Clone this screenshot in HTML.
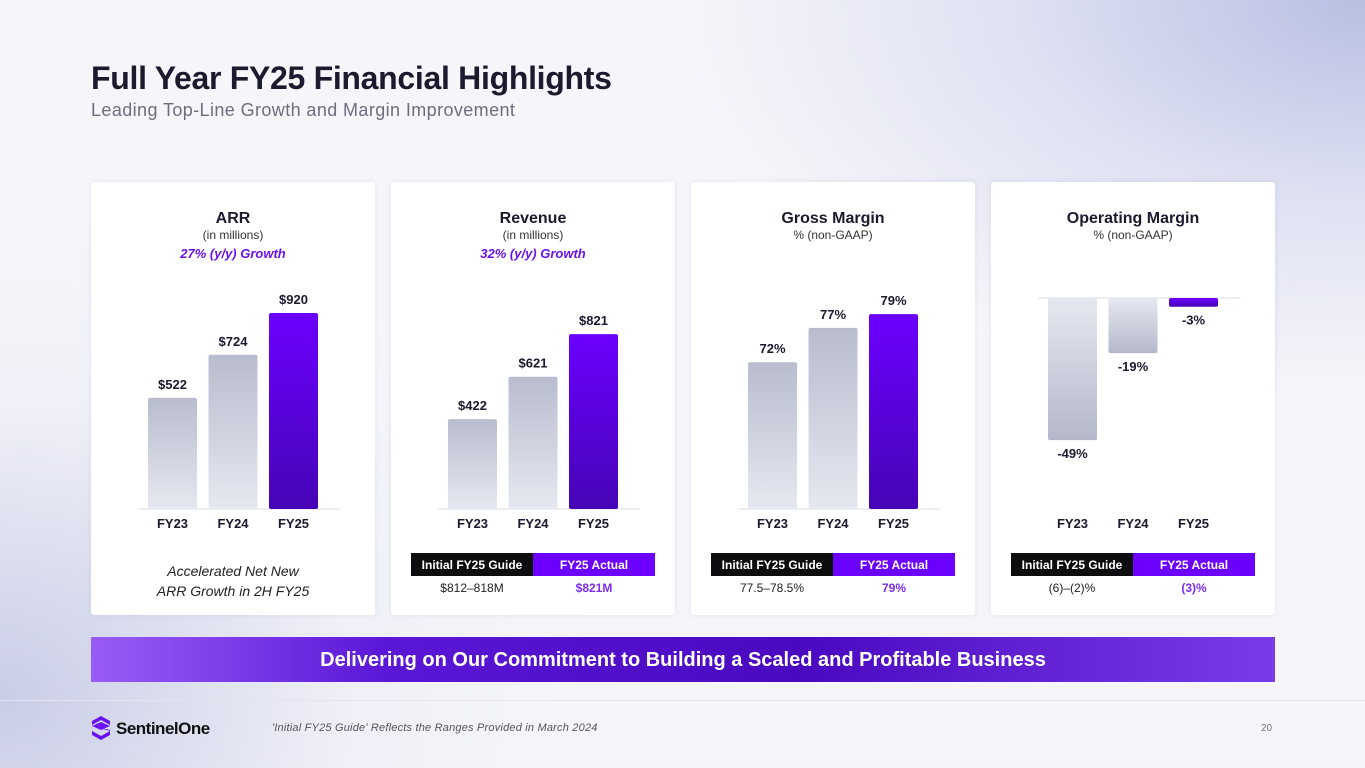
<!DOCTYPE html>
<html><head><meta charset="utf-8"><style>
*{margin:0;padding:0;box-sizing:border-box}
body{width:1365px;height:768px;overflow:hidden;font-family:"Liberation Sans",sans-serif;position:relative;
background:radial-gradient(ellipse 700px 400px at 1365px 0px,#b8bfe2 0%,rgba(200,205,235,0.5) 50%,rgba(255,255,255,0) 100%),radial-gradient(ellipse 600px 500px at 0px 700px,#c9cde6 0%,rgba(230,232,245,0.4) 60%,rgba(255,255,255,0) 100%),#f6f6fa}
.t{position:absolute;white-space:nowrap}
.card{position:absolute;top:182px;width:284px;height:433px;background:#fff;border-radius:3px;box-shadow:0 0 6px rgba(120,120,160,0.15)}
svg{position:absolute;left:0;top:0}
</style></head><body>
<div class="t" style="left:91px;top:60px;font-size:32px;font-weight:bold;color:#1b1a2e;letter-spacing:-0.3px">Full Year FY25 Financial Highlights</div>
<div class="t" style="left:91px;top:100px;font-size:18px;color:#6d6d80;letter-spacing:0.4px">Leading Top-Line Growth and Margin Improvement</div>
<div class="card" style="left:91px"></div>
<div class="card" style="left:391px"></div>
<div class="card" style="left:691px"></div>
<div class="card" style="left:991px"></div>
<div class="t" style="left:91px;width:284px;top:561px;text-align:center;font-size:14px;font-style:italic;color:#222;line-height:20px">Accelerated Net New<br>ARR Growth in 2H FY25</div>
<div style="position:absolute;left:91px;top:637px;width:1184px;height:45px;background:linear-gradient(90deg,#9a5cf8 0%,#5a17d6 25%,#4a09c0 60%,#7a3be8 100%);color:#fff;font-weight:bold;font-size:20px;text-align:center;line-height:47px">Delivering on Our Commitment to Building a Scaled and Profitable Business</div>
<div style="position:absolute;left:0;top:700px;width:1365px;height:1px;background:#e4e4ee"></div>
<svg style="left:91px;top:716px" width="20" height="24" viewBox="0 0 20 24"><path d="M10 0L19 5V9L10 4L1 9V5Z M1 10L19 14V19L10 24L1 19V15L10 20L19 15Z" fill="#6b12f0"/><path d="M1 10L10 6L19 10L10 14Z" fill="#6b12f0"/></svg>
<div class="t" style="left:116px;top:719px;font-size:17px;font-weight:bold;color:#111;letter-spacing:-0.5px">SentinelOne</div>
<div class="t" style="left:272px;top:722px;font-size:11px;font-style:italic;color:#555;letter-spacing:0.2px">'Initial FY25 Guide' Reflects the Ranges Provided in March 2024</div>
<div class="t" style="left:1261px;top:723px;font-size:10px;color:#777">20</div>
<svg id="ch" width="1365" height="768">
<defs>
<linearGradient id="gy" x1="0" y1="0" x2="0" y2="1"><stop offset="0" stop-color="#b9bccd"/><stop offset="1" stop-color="#e6e8f1"/></linearGradient>
<linearGradient id="gyr" x1="0" y1="0" x2="0" y2="1"><stop offset="0" stop-color="#e6e8f1"/><stop offset="1" stop-color="#b5b8ca"/></linearGradient>
<linearGradient id="pp" x1="0" y1="0" x2="0" y2="1"><stop offset="0" stop-color="#6b00ff"/><stop offset="1" stop-color="#4605b5"/></linearGradient>
</defs>
</svg>
<script>
const categories=["FY23","FY24","FY25"];
const arrValues=[522,724,920];
const arrLabels=["$522","$724","$920"];
const revValues=[422,621,821];
const revLabels=["$422","$621","$821"];
const gmValues=[72,77,79];
const gmLabels=["72%","77%","79%"];
const omValues=[-49,-19,-3];
const omLabels=["-49%","-19%","-3%"];
const titles=["ARR","Revenue","Gross Margin","Operating Margin"];
const subtitles=["(in millions)","(in millions)","% (non-GAAP)","% (non-GAAP)"];
const growth=["27% (y/y) Growth","32% (y/y) Growth","",""];
const guideVals=["","$812–818M","77.5–78.5%","(6)–(2)%"];
const actualVals=["","$821M","79%","(3)%"];
const svg=document.getElementById('ch');
const NS='http://www.w3.org/2000/svg';
function mk(tag,attrs,name,text){const e=document.createElementNS(NS,tag);for(const k in attrs)e.setAttribute(k,attrs[k]);


if(text!==undefined)e.textContent=text;svg.appendChild(e);return e;}
function txt(x,y,s,name,size,weight,fill,style){return mk('text',{x:x,y:y,'text-anchor':'middle','font-size':size,'font-weight':weight||'normal',fill:fill||'#1b1a2e','font-style':style||'normal','font-family':'Liberation Sans, sans-serif'},name,s);}
const cardX=[91,391,691,991];
const sets=[[arrValues,arrLabels,0,0.213],[revValues,revLabels,0,0.213],[gmValues,gmLabels,50.6,6.86],[omValues,omLabels,0,2.9]];
for(let c=0;c<4;c++){
 const cx=cardX[c]+142;
 txt(cx,223,titles[c],'chart-title',16,'bold');
 txt(cx,239,subtitles[c],'chart-subtitle',12,'normal','#333');
 if(growth[c])txt(cx,258,growth[c],'growth-label',13,'bold','#6b12f0','italic');
 const [vals,labs,base,k]=sets[c];
 const neg=c===3;
 const y0=neg?298:509;
 const x0=cardX[c]+57;
 mk('line',{x1:x0-10,x2:x0+192,y1:y0,y2:y0,stroke:'#dcdde8','stroke-width':1},'baseline');
 for(let i=0;i<3;i++){
  const bx=x0+i*60.5, h=Math.abs(vals[i]-base)*k;
  const last=i===2;
  const fill=last?'url(#pp)':(neg?'url(#gyr)':'url(#gy)');
  const y=neg?y0:y0-h;
  mk('rect',{x:bx,y:y,width:49,height:h,rx:2,fill:fill},'bar-'+categories[i].toLowerCase());
  txt(bx+24.5,neg?y0+h+18:y0-h-9,labs[i],'value-label',13,'bold');
  txt(bx+24.5,528,categories[i],'x-axis-label',13,'bold');
 }
 if(c>0){
  const tx=cardX[c]+20;
  mk('rect',{x:tx,y:553,width:122,height:23,fill:'#0d0d10'},'guide-header-bg');
  mk('rect',{x:tx+122,y:553,width:122,height:23,fill:'#6b00ff'},'actual-header-bg');
  txt(tx+61,569,'Initial FY25 Guide','guide-header',12,'bold','#fff');
  txt(tx+183,569,'FY25 Actual','actual-header',12,'bold','#fff');
  txt(tx+61,592,guideVals[c],'guide-value',12,'normal','#222');
  txt(tx+183,592,actualVals[c],'actual-value',12,'bold','#7b2cf0');
 }
}
</script>
</body></html>
